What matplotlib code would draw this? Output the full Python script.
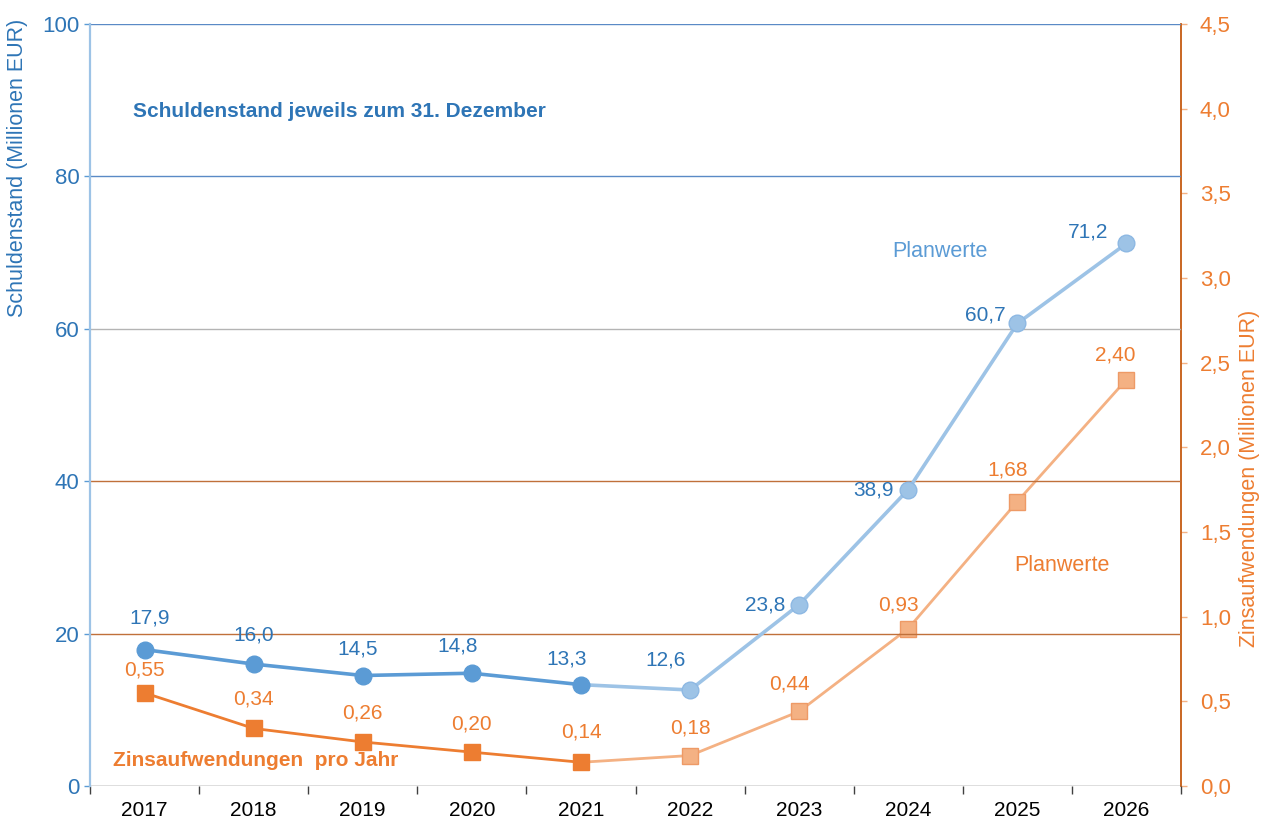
import matplotlib
matplotlib.use("Agg")
import matplotlib.pyplot as plt

plt.rcParams["font.family"] = ["Liberation Sans", "DejaVu Sans"]

# ---------------------------------------------------------------------------
# Data
# ---------------------------------------------------------------------------
years = ["2017", "2018", "2019", "2020", "2021", "2022", "2023", "2024", "2025", "2026"]
debt = [17.9, 16.0, 14.5, 14.8, 13.3, 12.6, 23.8, 38.9, 60.7, 71.2]
interest = [0.55, 0.34, 0.26, 0.20, 0.14, 0.18, 0.44, 0.93, 1.68, 2.40]
n_actual = 5  # 2017-2021 are actual values, the rest are planned

left_ticks = [0, 20, 40, 60, 80, 100]
right_ticks = [0.0, 0.5, 1.0, 1.5, 2.0, 2.5, 3.0, 3.5, 4.0, 4.5]

# colours
BLUE_TXT = "#2e75b6"
BLUE = "#5b9bd5"
BLUE_LT = "#9dc3e6"
ORANGE = "#ed7d31"
ORANGE_LT = "#f4b183"
BROWN = "#c55a11"

# label offsets in pixels (dx, dy)
debt_off = [(5, 32), (0, 29), (-5, 27), (-14, 27), (-14, 26), (-24, 30),
            (-34, 0), (-35, 0), (-32, 8), (-38, 11)]
int_off = [(0, 23), (0, 29), (0, 29), (0, 28), (0, 30), (0, 28),
           (-10, 27), (-10, 24), (-10, 32), (-11, 25)]

W, H = 1262, 821
fig = plt.figure(figsize=(W / 100, H / 100), dpi=100)
ax = fig.add_axes([90 / W, 35 / H, 1091 / W, 762 / H])
ax2 = ax.twinx()

x = list(range(len(years)))

# gridlines of the left axis
grid_colors = {0: "#595959", 20: "#c0703a", 40: "#c0703a", 60: "#b4b4b4",
               80: "#5a8ac6", 100: "#5a8ac6"}
for v in left_ticks:
    ax.axhline(v, color=grid_colors[v], linewidth=1.0, zorder=1)

# debt series
ax.plot(x[:n_actual], debt[:n_actual], color=BLUE, linewidth=2.6, zorder=3)
ax.plot(x[n_actual - 1:], debt[n_actual - 1:], color=BLUE_LT, linewidth=2.6, zorder=3)
ax.plot(x[:n_actual], debt[:n_actual], "o", color=BLUE, markersize=12,
        markeredgecolor=BLUE, zorder=4)
ax.plot(x[n_actual:], debt[n_actual:], "o", color=BLUE_LT, markersize=12,
        markeredgecolor="#8db8e3", zorder=4)
for xi, v, (dx, dy) in zip(x, debt, debt_off):
    ax.annotate(f"{v:.1f}".replace(".", ","), (xi, v), xytext=(dx, dy),
                textcoords="offset pixels", ha="center", va="center",
                fontsize=15, color=BLUE_TXT, zorder=5)

# interest series
ax2.plot(x[:n_actual], interest[:n_actual], color=ORANGE, linewidth=2.0, zorder=3)
ax2.plot(x[n_actual - 1:], interest[n_actual - 1:], color=ORANGE_LT, linewidth=2.0, zorder=3)
ax2.plot(x[:n_actual], interest[:n_actual], "s", color=ORANGE, markersize=12,
         markeredgecolor=ORANGE, zorder=4)
ax2.plot(x[n_actual:], interest[n_actual:], "s", color=ORANGE_LT, markersize=12,
         markeredgecolor="#ee9a66", zorder=4)
for xi, v, (dx, dy) in zip(x, interest, int_off):
    ax2.annotate(f"{v:.2f}".replace(".", ","), (xi, v), xytext=(dx, dy),
                 textcoords="offset pixels", ha="center", va="center",
                 fontsize=15, color=ORANGE, zorder=5)

# axes
ax.set_xlim(-0.5, len(years) - 0.5)
ax.set_ylim(0, 100)
ax2.set_ylim(0, 4.5)

ax.set_xticks(x)
ax.set_xticklabels(years, fontsize=15, color="black")
ax.set_xticks([i - 0.5 for i in range(len(years) + 1)], minor=True)
ax.tick_params(axis="x", which="major", length=0, pad=11)
ax.tick_params(axis="x", which="minor", length=6, color="#404040", width=1)

ax.set_yticks(left_ticks)
ax.set_yticklabels([str(v) for v in left_ticks], fontsize=16, color=BLUE_TXT)
ax.tick_params(axis="y", length=4.5, color=BLUE, width=1, pad=3)
ax2.set_yticks(right_ticks)
ax2.set_yticklabels([f"{v:.1f}".replace(".", ",") for v in right_ticks],
                    fontsize=16, color=ORANGE)
ax2.tick_params(axis="y", length=4.5, color=ORANGE_LT, width=1, pad=9)

for a in (ax, ax2):
    for side in ("top", "bottom", "left", "right"):
        a.spines[side].set_visible(False)
ax.spines["left"].set_visible(True)
ax.spines["left"].set_color(BLUE_LT)
ax.spines["left"].set_linewidth(1.6)
ax2.spines["right"].set_visible(True)
ax2.spines["right"].set_color(BROWN)
ax2.spines["right"].set_linewidth(1.3)

# axis titles
fig.text(18 / W, 1 - 168 / H, "Schuldenstand (Millionen EUR)", rotation=90,
         ha="center", va="center", fontsize=15.5, color=BLUE_TXT)
fig.text(1250 / W, 1 - 478 / H, "Zinsaufwendungen (Millionen EUR)", rotation=90,
         ha="center", va="center", fontsize=15.5, color=ORANGE)

# annotations
ax.text(0.039, 0.885, "Schuldenstand jeweils zum 31. Dezember", transform=ax.transAxes,
        fontsize=15, fontweight="bold", color=BLUE_TXT, va="center", ha="left")
ax.text(0.021, 0.034, "Zinsaufwendungen  pro Jahr", transform=ax.transAxes,
        fontsize=15, fontweight="bold", color=ORANGE, va="center", ha="left")
ax.text(0.779, 0.701, "Planwerte", transform=ax.transAxes,
        fontsize=15.5, color=BLUE, va="center", ha="center")
ax.text(0.891, 0.289, "Planwerte", transform=ax.transAxes,
        fontsize=15.5, color=ORANGE, va="center", ha="center")

ax.set_zorder(ax2.get_zorder() + 1)
ax.patch.set_visible(False)

fig.savefig("out.png", dpi=100)
